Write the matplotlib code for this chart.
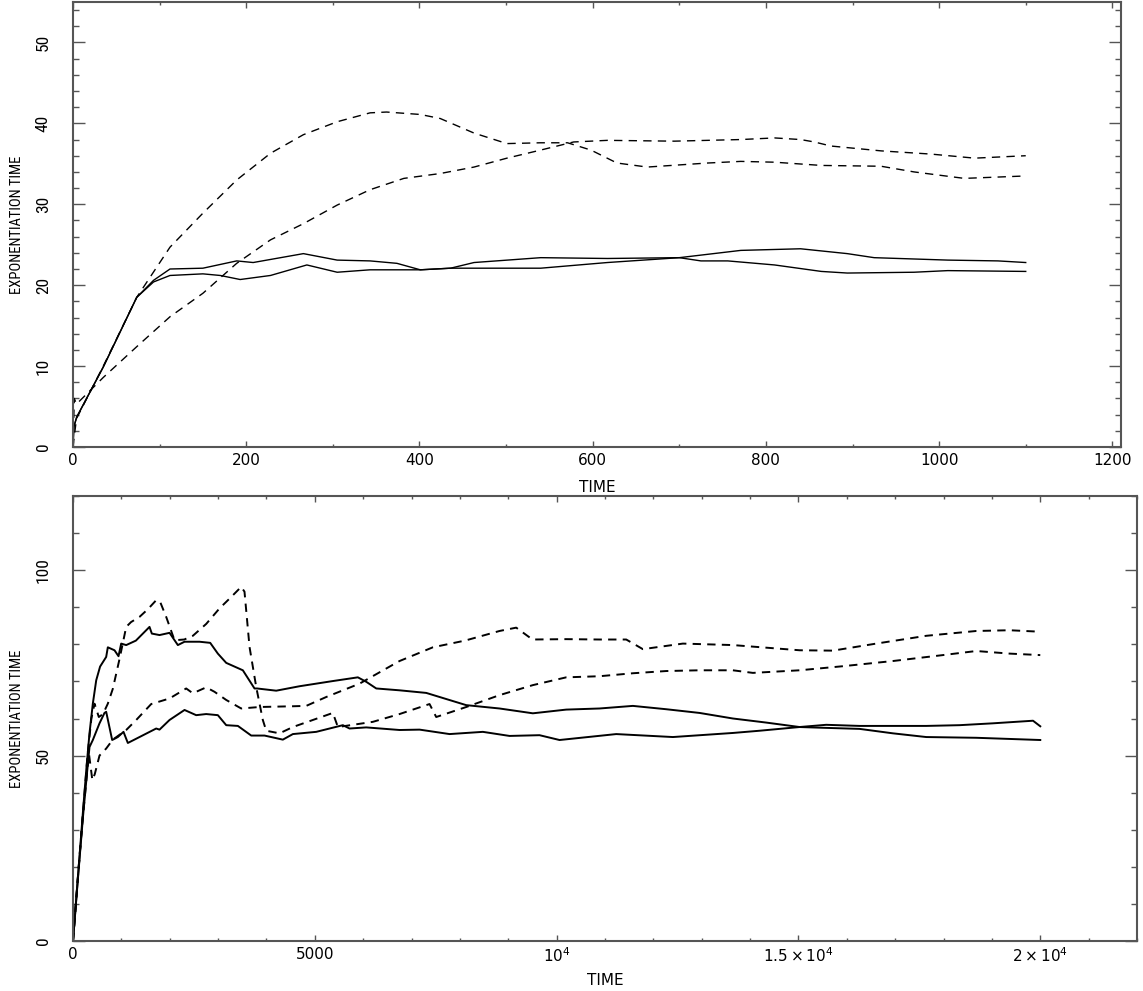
import matplotlib
matplotlib.use('Agg')
import matplotlib.pyplot as plt
from matplotlib.ticker import MultipleLocator

# ---- top panel data (short run) ----
top_dash1_t = [0, 4, 35, 73.6, 112, 150, 189, 228, 266, 305, 343, 362, 401, 424, 463, 501,
               540, 571, 598, 628, 663, 733, 771, 810, 864, 933, 971, 1029, 1100]
top_dash1_v = [0, 3.5, 10, 18.5, 24.7, 28.9, 33.0, 36.3, 38.6, 40.2, 41.3, 41.4, 41.1, 40.6, 38.8, 37.5,
               37.6, 37.6, 36.7, 35.1, 34.6, 35.1, 35.3, 35.2, 34.8, 34.7, 34.0, 33.2, 33.5]

top_dash2_t = [0, 1.5, 4, 35, 73.6, 112, 150, 189, 228, 266, 305, 343, 382, 424, 463, 501,
               540, 578, 617, 694, 771, 810, 840, 856, 875, 933, 991, 1041, 1100]
top_dash2_v = [0, 6.0, 5.3, 8.6, 12.4, 16.1, 19.0, 22.7, 25.6, 27.6, 29.9, 31.8, 33.2, 33.8, 34.6, 35.7,
               36.7, 37.7, 37.9, 37.8, 38.0, 38.2, 38.0, 37.7, 37.2, 36.6, 36.2, 35.7, 36.0]

top_solid1_t = [0, 1, 4.3, 35, 73.6, 93, 112, 150, 189, 208, 266, 305, 343, 374, 401, 436,
                463, 540, 617, 700, 725, 756, 810, 864, 894, 971, 1010, 1100]
top_solid1_v = [0, 2.5, 3.7, 9.9, 18.5, 20.6, 22.0, 22.1, 23.0, 22.8, 23.9, 23.1, 23.0, 22.7, 21.9, 22.1,
                22.8, 23.4, 23.3, 23.4, 23.0, 23.0, 22.5, 21.7, 21.5, 21.6, 21.8, 21.7]

top_solid2_t = [0, 1, 4.3, 35, 73.6, 93, 112, 150, 170, 193, 228, 270, 305, 343, 401, 436,
                540, 617, 700, 771, 840, 894, 925, 1010, 1068, 1100]
top_solid2_v = [0, 2.5, 3.7, 9.9, 18.5, 20.4, 21.2, 21.4, 21.2, 20.7, 21.2, 22.5, 21.6, 21.9, 21.9, 22.1,
                22.1, 22.8, 23.4, 24.3, 24.5, 23.9, 23.4, 23.1, 23.0, 22.8]

# ---- bottom panel data (long run) ----
bot_solid1_t = [0, 100, 203, 280, 341, 410, 480, 560, 686, 720, 858, 941, 996, 1100, 1300, 1582,
                1630, 1789, 1996, 2168, 2306, 2616, 2837, 2995, 3168, 3512, 3753, 3805, 4202, 4684,
                5373, 5890, 6063, 6270, 6752, 7304, 8131, 8819, 9508, 10198, 10887, 11576, 12266,
                12955, 13644, 14334, 15023, 15500, 16263, 16953, 17642, 18677, 20000]
bot_solid1_v = [0, 17, 34.4, 47, 56, 64, 70.3, 74, 76.6, 79.2, 78.4, 76.8, 80.2, 79.8, 81.0, 84.7,
                82.9, 82.5, 83.1, 79.8, 80.7, 80.7, 80.4, 77.5, 75.0, 73.0, 68.1, 68.1, 67.5, 68.7,
                70.1, 71.1, 69.9, 68.1, 67.6, 66.9, 63.6, 62.7, 61.4, 62.4, 62.7, 63.4, 62.5,
                61.5, 60.0, 58.9, 57.7, 57.5, 57.2, 56.0, 55.0, 54.8, 54.2]

bot_solid2_t = [0, 100, 203, 280, 341, 410, 548, 651, 686, 810, 927, 1044, 1134, 1375, 1720, 1789,
                1996, 2306, 2547, 2754, 2995, 3168, 3409, 3685, 3960, 4339, 4546, 5029, 5580, 5718,
                6063, 6752, 7166, 7786, 8475, 9026, 9646, 10060, 11232, 12403, 13644, 14195, 15023,
                15573, 16263, 17642, 18331, 19020, 19850, 20000]
bot_solid2_v = [0, 16.5, 33, 44, 52.3, 54.2, 58.7, 61.5, 61.8, 54.2, 55.0, 56.4, 53.4, 55.0, 57.3, 57.0,
                59.6, 62.3, 60.9, 61.2, 60.9, 58.2, 58.0, 55.4, 55.4, 54.3, 55.8, 56.4, 58.2, 57.3,
                57.6, 56.9, 57.0, 55.8, 56.4, 55.3, 55.5, 54.2, 55.8, 55.0, 56.1, 56.7, 57.7,
                58.3, 58.0, 58.0, 58.2, 58.7, 59.4, 57.9]

bot_dash1_t = [0, 100, 203, 300, 380, 445, 534, 620, 720, 823, 961, 1100, 1200, 1375, 1550, 1720,
               1800, 1927, 2099, 2300, 2478, 2754, 3030, 3250, 3478, 3546, 3650, 3788, 3925, 3995,
               4270, 4546, 5373, 5477, 6200, 6752, 7372, 7510, 8131, 8819, 9508, 10198, 10887,
               11576, 12266, 12955, 13644, 14058, 15023, 15918, 16953, 17987, 18677, 19365, 20000]
bot_dash1_v = [0, 17, 34, 50, 60, 64, 60.4, 61.2, 64, 68, 76, 84.7, 86, 87.4, 89.5, 91.9,
               91.5, 87.4, 81.1, 81.3, 82.3, 85.5, 89.7, 92.5, 95.5, 94.2, 79.3, 68.5, 59.6, 56.7,
               56.0, 57.7, 61.5, 57.7, 59.1, 61.2, 63.9, 60.4, 63.1, 66.3, 69.0, 71.1, 71.4,
               72.2, 72.8, 73.0, 73.0, 72.3, 73.0, 74.1, 75.5, 77.1, 78.2, 77.5, 77.1]

bot_dash2_t = [0, 100, 200, 330, 400, 450, 548, 686, 823, 1100, 1307, 1617, 1996, 2340, 2478, 2754,
               2926, 3168, 3478, 3857, 4546, 4822, 5236, 5925, 6615, 6752, 7441, 7993, 8131, 8819,
               9164, 9500, 10198, 10887, 11439, 11783, 12610, 13644, 14334, 15023, 15712, 16608,
               17642, 18677, 19365, 20000]
bot_dash2_v = [0, 17, 33, 50.5, 43.4, 45, 50, 51.9, 54.3, 56.9, 59.6, 63.9, 65.4, 68.1, 66.8, 68.4,
               67.2, 65.0, 62.7, 63.1, 63.3, 63.4, 65.8, 69.4, 74.5, 75.5, 79.2, 80.7, 81.1, 83.6,
               84.5, 81.3, 81.4, 81.3, 81.3, 78.7, 80.2, 79.8, 79.1, 78.4, 78.3, 80.2,
               82.3, 83.6, 83.8, 83.4]

bot_xticks = [0, 5000, 10000, 15000, 20000]
bot_xticklabels = ['0', '5000', r'$10^4$', r'$1.5\times10^4$', r'$2\times10^4$']

plt.rcParams['lines.scale_dashes'] = False
plt.rcParams['mathtext.fontset'] = 'dejavusans'

narrow = ['Roboto Condensed', 'Liberation Sans Narrow', 'DejaVu Sans']
axcol = '#555555'
W, H = 1143, 991

fig = plt.figure(figsize=(W / 100, H / 100), dpi=100)
ax1 = fig.add_axes([73 / W, 1 - 447 / H, 1048 / W, 445 / H])
ax2 = fig.add_axes([73 / W, 1 - 941 / H, 1064 / W, 445 / H])


def style_axis(ax, ymin_step, ymaj_step):
    for s in ax.spines.values():
        s.set_color(axcol)
        s.set_linewidth(1.5)
    ax.yaxis.set_major_locator(MultipleLocator(ymaj_step))
    ax.yaxis.set_minor_locator(MultipleLocator(ymin_step))
    ax.tick_params(which='both', direction='in', top=True, right=True, color=axcol, width=1)
    ax.tick_params(axis='x', which='major', length=4.3, pad=4, labelsize=11)
    ax.tick_params(axis='x', which='minor', length=2.2)
    ax.tick_params(axis='y', which='major', length=8.6, pad=16, labelsize=12.5, labelrotation=90)
    ax.tick_params(axis='y', which='minor', length=4)
    plt.setp(ax.get_yticklabels(), va='center', family=narrow)
    ax.set_ylabel('EXPONENTIATION TIME', fontsize=10.5, family=narrow)
    ax.set_xlabel('TIME', fontsize=11)


# top panel
ax1.plot(top_dash1_t, top_dash1_v, color='black', lw=1.0, dashes=(6, 4.5))
ax1.plot(top_dash2_t, top_dash2_v, color='black', lw=1.0, dashes=(6, 4.5))
ax1.plot(top_solid1_t, top_solid1_v, color='black', lw=1.0)
ax1.plot(top_solid2_t, top_solid2_v, color='black', lw=1.0)
ax1.set_xlim(0, 1210)
ax1.set_ylim(0, 55)
ax1.xaxis.set_major_locator(MultipleLocator(200))
ax1.xaxis.set_minor_locator(MultipleLocator(100))
style_axis(ax1, 2, 10)
ax1.yaxis.set_label_coords(-0.047, 0.5)
ax1.xaxis.set_label_coords(0.5, -0.075)

# bottom panel
ax2.plot(bot_dash1_t, bot_dash1_v, color='black', lw=1.4, dashes=(6, 4.5))
ax2.plot(bot_dash2_t, bot_dash2_v, color='black', lw=1.4, dashes=(6, 4.5))
ax2.plot(bot_solid1_t, bot_solid1_v, color='black', lw=1.4)
ax2.plot(bot_solid2_t, bot_solid2_v, color='black', lw=1.4)
ax2.set_xlim(0, 22000)
ax2.set_ylim(0, 120)
ax2.set_xticks(bot_xticks, bot_xticklabels)
ax2.xaxis.set_minor_locator(MultipleLocator(1000))
style_axis(ax2, 10, 50)
ax2.yaxis.set_label_coords(-0.046, 0.5)
ax2.xaxis.set_label_coords(0.5, -0.073)

fig.savefig('out.png', dpi=100)
